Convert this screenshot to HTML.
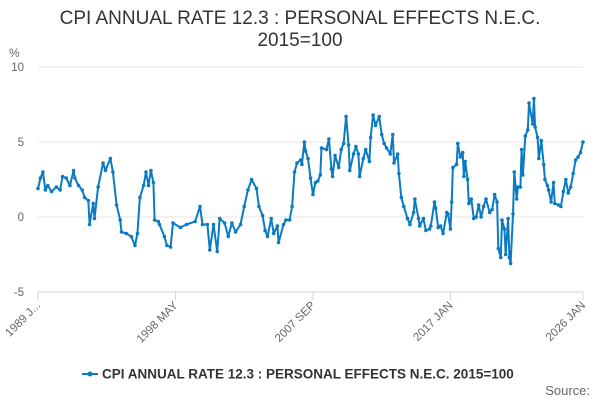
<!DOCTYPE html>
<html><head><meta charset="utf-8"><style>
body{margin:0;background:#fff;font-family:"Liberation Sans",sans-serif}
</style></head><body>
<svg id="chart" width="600" height="400" xmlns="http://www.w3.org/2000/svg">
<text x="300" y="24" text-anchor="middle" font-size="19" fill="#333">CPI ANNUAL RATE 12.3 : PERSONAL EFFECTS N.E.C.</text>
<text x="300" y="46" text-anchor="middle" font-size="19" fill="#333">2015=100</text>
<text x="9" y="57" font-size="12" fill="#666">%</text>
<g id="grid"></g><g id="xaxis"></g><g id="series"></g>
<g>
<line x1="82" y1="374" x2="98" y2="374" stroke="#0a7bc2" stroke-width="2"/>
<circle cx="90" cy="374" r="2.5" fill="#0a7bc2"/>
<text x="102" y="378.5" font-size="13.5" font-weight="bold" fill="#333">CPI ANNUAL RATE 12.3 : PERSONAL EFFECTS N.E.C. 2015=100</text>
</g>
<text x="590" y="395" text-anchor="end" font-size="13" fill="#666">Source:</text>
</svg>
<script>
const months=[0,2,4,6,8,11,15,18,20,23,26,29,30,33,36,38,41,42,45,46,49,53,55,59,61,64,67,68,72,76,79,81,83,86,88,90,92,94,95,98,99,103,105,108,
110,116,121,128,132,134,138,140,143,146,148,152,155,158,161,165,168,171,174,178,180,183,185,187,190,192,195,196,200,202,205,207,209,211,214,215,217,218,220,222,224,226,
228,230,231,235,237,239,240,242,245,247,249,251,253,254,257,259,261,262,265,267,270,271,273,275,278,280,282,284,287,289,290,293,294,296,298,301,303,306,307,310,311,314,316,319,320,323,324,326,328,330,333,334,336,
337,338,341,342,344,346,347,348,350,351,353,355,357,359,361,363,365,368,370,372,374,375,377,378,380,381,383,384,385,387,388,390,391,393,394,395,397,399,400,403,404,405,407,408,410,412,413,415,416,418,420,421,424,426,428,430,432,434,436,438,440,442,444];
const values=[1.9,2.6,3.0,1.8,2.1,1.7,2.0,1.8,2.7,2.6,2.1,3.1,2.6,2.1,1.8,1.3,1.1,-0.5,0.9,-0.1,2.0,3.6,3.1,3.9,3.0,0.8,-0.2,-1.0,-1.1,-1.3,-1.9,-1.1,1.3,2.1,3.0,2.1,3.1,2.3,-0.2,-0.3,-0.5,-1.3,-1.9,-2.0,
-0.4,-0.7,-0.5,-0.3,0.7,-0.5,-0.5,-2.2,-0.5,-2.3,-0.1,-0.4,-1.3,-0.4,-1.0,-0.5,0.7,1.8,2.5,1.9,0.7,0.1,-0.9,-1.3,-0.1,-1.1,-0.6,-1.7,-0.5,-0.2,-0.2,0.7,3.0,3.6,3.8,3.5,5.0,4.4,3.9,2.6,1.5,2.3,
2.4,2.8,4.6,4.5,5.2,3.2,2.7,4.1,3.3,4.5,4.9,6.7,4.8,3.1,4.2,4.7,4.2,2.7,3.9,4.5,3.7,5.3,6.8,6.1,6.7,5.5,4.9,4.6,4.2,5.5,3.6,4.2,2.9,1.3,0.7,-0.1,-0.5,0.3,1.2,-0.1,-0.6,-0.1,-0.9,-0.8,-0.6,1.0,0.6,-0.7,-0.6,-1.1,0.3,0.2,-0.8,
1.0,3.3,3.5,4.9,4.0,4.3,2.7,3.7,2.5,0.9,1.2,-0.1,0.0,0.8,0.0,0.7,1.2,0.3,0.5,1.5,1.0,-2.1,-2.7,-0.2,-0.8,-2.5,-0.1,-2.7,-3.1,0.2,3.0,1.2,2.0,2.0,4.5,2.8,5.4,5.8,7.6,6.2,7.9,6.0,5.3,3.9,5.1,3.5,2.5,2.1,1.8,1.0,2.3,0.9,0.8,0.7,1.7,2.5,1.6,2.0,2.9,3.8,4.0,4.3,5.0];
const yTicks=[10,5,0,-5];
const xTickMonths=[0,112,224,336,444];
const xTickLabels=["1989 J...","1998 MAY","2007 SEP","2017 JAN","2026 JAN"];
const NS="http://www.w3.org/2000/svg";
const X0=38,X1=583,Y10=67,YM5=292;
const xs=m=>X0+m*(X1-X0)/444;
const ys=v=>Y10+(10-v)*(YM5-Y10)/15;
function mk(t,a,p){const e=document.createElementNS(NS,t);for(const k in a)e.setAttribute(k,a[k]);p.appendChild(e);return e;}
const grid=document.getElementById('grid');
yTicks.forEach(v=>{
 const l=mk('line',{x1:X0,x2:X1,y1:ys(v),y2:ys(v),stroke:v===-5?'#ccd6eb':'#e6e6e6','stroke-width':1},grid);
 
 
 const t=mk('text',{x:24,y:ys(v)+4,'text-anchor':'end','font-size':11.5,fill:'#666'},grid);
 t.textContent=v;
 
 
});
const xa=document.getElementById('xaxis');
xTickMonths.forEach((m,i)=>{
 const x=xs(m);
 const tk=mk('line',{x1:x,x2:x,y1:YM5,y2:YM5+8,stroke:'#ccd6eb'},xa);
 
 
 const t=mk('text',{x:x+3,y:YM5+14,'text-anchor':'end','font-size':11.5,fill:'#666',transform:`rotate(-45 ${x+3} ${YM5+14})`},xa);
 t.textContent=xTickLabels[i];
 
 
});
const sg=document.getElementById('series');
const d=months.map((m,i)=>(i?'L':'M')+xs(m).toFixed(1)+' '+ys(values[i]).toFixed(1)).join(' ');
const p=mk('path',{d:d,fill:'none',stroke:'#0a7bc2','stroke-width':2,'stroke-linejoin':'round'},sg);


months.forEach((m,i)=>{
 const c=mk('circle',{cx:xs(m),cy:ys(values[i]),r:1.8,fill:'#0a7bc2'},sg);
 
 
});
</script>
</body></html>
